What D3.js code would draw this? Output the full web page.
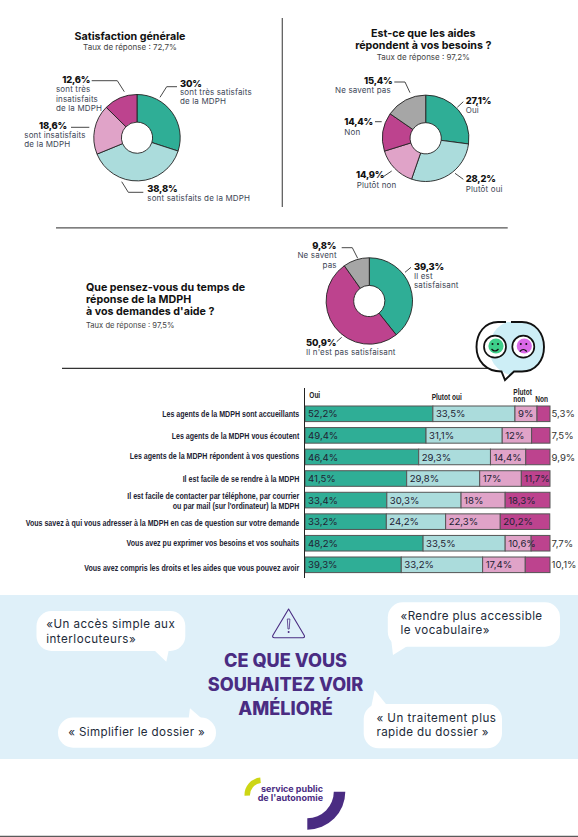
<!DOCTYPE html>
<html><head><meta charset="utf-8">
<script src="https://cdn.jsdelivr.net/npm/d3@7/dist/d3.min.js"></script>
<style>html,body{margin:0;padding:0;background:#fff}svg{display:block}</style></head>
<body><svg id="c" width="578" height="837"></svg>
<script>
// ---- data ----
const satisfactionLabels = ["Très satisfaits","Satisfaits","Insatisfaits","Très insatisfaits"];
const satisfactionValues = [30,38.8,18.6,12.6];
const besoinsLabels = ["Oui","Plutôt oui","Plutôt non","Non","Ne savent pas"];
const besoinsValues = [27.1,28.2,14.9,14.4,15.4];
const delaiLabels = ["Il est satisfaisant","Il n'est pas satisfaisant","Ne savent pas"];
const delaiValues = [39.3,50.9,9.8];
const statements = [
 ["Les agents de la MDPH sont accueillants"],
 ["Les agents de la MDPH vous écoutent"],
 ["Les agents de la MDPH répondent à vos questions"],
 ["Il est facile de se rendre à la MDPH"],
 ["Il est facile de contacter par téléphone, par courrier","ou par mail (sur l'ordinateur) la MDPH"],
 ["Vous savez à qui vous adresser à la MDPH en cas de question sur votre demande"],
 ["Vous avez pu exprimer vos besoins et vos souhaits"],
 ["Vous avez compris les droits et les aides que vous pouvez avoir"]];
const oui      = [52.2,49.4,46.4,41.5,33.4,33.2,48.2,39.3];
const plutotOui= [33.5,31.1,29.3,29.8,30.3,24.2,33.5,33.2];
const plutotNon= [9,12,14.4,17,18,22.3,10.6,17.4];
const non      = [5.3,7.5,9.9,11.7,18.3,20.2,7.7,10.1];

// ---- helpers ----
const TEAL="#2fae96",LIGHT="#abdcdc",PINK="#e0a3c8",MAG="#bd438e",GREY="#a6a6a6",PURPLE="#4a2c82",INK="#3a3f4a";
const GOTHAM="Inter, 'Noto Sans', sans-serif";
const svg=d3.select("#c");
const fr=v=>String(v).replace(".",",")+"%";
function txt(x,y,s,o={}){
  return svg.append("text").attr("x",x).attr("y",y).text(s)
   .attr("font-family",o.font||GOTHAM).attr("font-size",o.size||8).attr("font-weight",o.weight||400)
   .attr("fill",o.fill||INK).attr("text-anchor",o.anchor||"start")
   .attr("letter-spacing",o.ls||null);
}
const pct=(x,y,s,o={})=>txt(x,y,s,Object.assign({size:9.4,weight:800,fill:"#111",ls:-0.2},o));
const lab=(x,y,s,o={})=>txt(x,y,s,Object.assign({size:8,fill:"#3d4656",ls:0.15},o));
const head=(x,y,s,o={})=>txt(x,y,s,Object.assign({size:10.7,weight:700,fill:"#111",anchor:"middle"},o));
function leader(pts){
  svg.append("path").attr("d",d3.line()(pts)).attr("fill","none").attr("stroke","#333").attr("stroke-width",0.9);
}
function donut(cx,cy,values,colors){
  const pie=d3.pie().sort(null)(values);
  const arc=d3.arc().innerRadius(15.6).outerRadius(43.2);
  svg.append("g").attr("transform",`translate(${cx},${cy})`).selectAll("path").data(pie).join("path")
    .attr("d",arc).attr("fill",(d,i)=>colors[i]).attr("stroke","#222").attr("stroke-width",0.9);
}

// ---- top left donut ----
head(130,40,"Satisfaction générale");
lab(130,50,"Taux de réponse : 72,7%",{anchor:"middle",fill:"#444",ls:0});
donut(137,137.7,satisfactionValues,[TEAL,LIGHT,PINK,MAG]);
pct(180,86.7,fr(satisfactionValues[0]));
lab(180,95,"sont très satisfaits");lab(180,103.5,"de la MDPH");
leader([[160,97.3],[166.7,86.7],[177,86.7]]);
pct(147.3,191.7,fr(satisfactionValues[1]));
lab(147.3,200.7,"sont satisfaits de la MDPH");
leader([[121.7,181.7],[128.3,192.3],[143.3,192.3]]);
pct(39,129,fr(satisfactionValues[2]));
lab(24.3,137.5,"sont insatisfaits");lab(24.3,147.3,"de la MDPH");
leader([[71,127.3],[89.3,127.3]]);
pct(62.3,83.3,fr(satisfactionValues[3]));
lab(56,92,"sont très");lab(56,101.7,"insatisfaits");lab(56,110.7,"de la MDPH");
leader([[91.7,80.7],[117.3,80.7],[124.3,91.7]]);

// ---- separators ----
svg.append("line").attr("x1",282.3).attr("x2",282.3).attr("y1",18).attr("y2",207).attr("stroke","#555").attr("stroke-width",1.2);
svg.append("line").attr("x1",56).attr("x2",507.7).attr("y1",227.8).attr("y2",227.8).attr("stroke","#555").attr("stroke-width",1.2);
svg.append("line").attr("x1",62).attr("x2",492).attr("y1",368.4).attr("y2",368.4).attr("stroke","#333").attr("stroke-width",1.1);

// ---- top right donut ----
head(423.3,36.7,"Est-ce que les aides");
head(423.3,49.3,"répondent à vos besoins ?");
lab(423.3,60,"Taux de réponse : 97,2%",{anchor:"middle",fill:"#444",ls:0});
donut(425.7,138.3,besoinsValues,[TEAL,LIGHT,PINK,MAG,GREY]);
pct(465.7,104,fr(besoinsValues[0]));lab(465.7,113.3,besoinsLabels[0]);
leader([[457.3,107.3],[463.3,101.7]]);
pct(465.7,182,fr(besoinsValues[1]));lab(465.7,191.7,besoinsLabels[1]);
leader([[455,173.3],[463.3,179.3]]);
pct(356,178.3,fr(besoinsValues[2]));lab(356.7,187.5,besoinsLabels[2]);
leader([[383.3,176.7],[391.7,171]]);
pct(344.3,125,fr(besoinsValues[3]));lab(344.3,135,besoinsLabels[3]);
leader([[375,121.7],[381.7,121.7]]);
pct(364,84,fr(besoinsValues[4]));lab(335,92.9,besoinsLabels[4]);
leader([[394.3,82],[405,82],[410,92.7]]);

// ---- middle donut ----
head(86,290.7,"Que pensez-vous du temps de",{anchor:"start"});
head(86,302.5,"réponse de la MDPH",{anchor:"start"});
head(86,315,"à vos demandes d'aide ?",{anchor:"start"});
lab(86,328.3,"Taux de réponse : 97,5%",{fill:"#444",size:7.6,ls:0});
donut(369.3,301,delaiValues,[TEAL,MAG,GREY]);
pct(414,270,fr(delaiValues[0]));lab(414,278.6,"Il est");lab(414,288.3,"satisfaisant");
leader([[405,272.3],[411,267.3]]);
pct(306,345.7,fr(delaiValues[1]));lab(306,355,delaiLabels[1]);
leader([[336.7,341.7],[341.7,337.3]]);
pct(312.3,249,fr(delaiValues[2]));lab(336.7,258.3,"Ne savent",{anchor:"end"});lab(336.7,267.7,"pas",{anchor:"end"});
leader([[341.7,247.7],[352.3,247.7],[357.7,258.3]]);

// ---- stacked bars ----
const x=d3.scaleLinear().domain([0,100]).range([305,550]);
const y=d3.scaleBand().domain(d3.range(statements.length)).range([406,572.6]).paddingInner(0.277);
const keys=["oui","plutotOui","plutotNon","non"];
const rows=statements.map((s,i)=>({i,oui:oui[i],plutotOui:plutotOui[i],plutotNon:plutotNon[i],non:non[i]}));
const stack=d3.stack().keys(keys)(rows);
const barColors=d3.scaleOrdinal().domain(keys).range([TEAL,LIGHT,PINK,MAG]);
svg.append("g").selectAll("g").data(stack).join("g").attr("fill",d=>barColors(d.key))
  .selectAll("rect").data(d=>d).join("rect")
  .attr("x",d=>x(d[0])).attr("width",d=>x(d[1])-x(d[0]))
  .attr("y",d=>y(d.data.i)).attr("height",y.bandwidth())
  .attr("stroke","#555").attr("stroke-width",1);
stack.forEach((s,k)=>s.forEach(d=>{
  const v=d[1]-d[0], val=+v.toFixed(1), base=y(d.data.i)+y.bandwidth()/2+3.6;
  if(k===3&&val<11) txt(x(100)+1.5,base,fr(val),{size:9.6,fill:"#333"});
  else txt(x(d[0])+3,base,fr(val),{size:9.6,fill:"#223"});
}));
svg.append("line").attr("x1",304.5).attr("x2",304.5).attr("y1",388).attr("y2",578).attr("stroke","#222").attr("stroke-width",1);

// condensed bold text: squeezed horizontally to the reference's narrow face
const BARFONT="'Liberation Sans', sans-serif";
const probe=txt(0,-50,statements[5][0],{font:BARFONT,size:9.3,weight:700});
const NARROW=274/probe.node().getComputedTextLength();
probe.remove();
function narrow(px,py,s,o={}){
  txt(0,0,s,{font:BARFONT,size:o.size||9.3,weight:700,fill:o.fill||"#1c2333",anchor:o.anchor||"start"})
   .attr("transform",`translate(${px},${py}) scale(${NARROW},1)`);
}
const hf={size:8.6,fill:"#222"};
narrow(309.3,398.3,"Oui",hf);narrow(431.7,399.7,"Plutot oui",hf);narrow(513.3,395,"Plutot",hf);narrow(513.3,402.3,"non",hf);narrow(535.3,402.3,"Non",hf);
const rowBase=[417.3,438.7,458.7,481.7,498.7,525.7,545.7,571];
statements.forEach((lines,i)=>lines.forEach((l,j)=>
  narrow(299.3,rowBase[i]+j*10,l,{anchor:"end"})));

// ---- speech icon ----
const bubbleShape="M506,322 L498,322 C485,322 476.5,333 476.5,347 C476.5,361 486,371.5 501.5,371.5 L505,380 L514,371.5 L522,371.5 C536,371.5 544,360 544,347 C544,333 535,322 522,322 L511,322";
const ic=svg.append("g");
ic.append("clipPath").attr("id","bub").append("path").attr("d",bubbleShape+"Z");
ic.append("path").attr("d",bubbleShape+"Z").attr("fill","#fff");
ic.append("circle").attr("cx",517).attr("cy",348).attr("r",28).attr("fill","#cdeef6").attr("clip-path","url(#bub)");
ic.append("path").attr("d",bubbleShape).attr("fill","none").attr("stroke","#111").attr("stroke-width",1.9);
[[495,"#3ecf8a",1],[523.3,"#d968e8",-1]].forEach(([cx,c,m])=>{
  ic.append("circle").attr("cx",cx).attr("cy",346.7).attr("r",11).attr("fill","#fff").attr("stroke","#111").attr("stroke-width",1.7);
  ic.append("circle").attr("cx",cx+1).attr("cy",346).attr("r",7.6).attr("fill",c);
  ic.append("circle").attr("cx",cx-2.5).attr("cy",344).attr("r",1).attr("fill","#111");
  ic.append("circle").attr("cx",cx+3).attr("cy",344).attr("r",1).attr("fill","#111");
  const my=m<0?351.5:349;
  ic.append("path").attr("d",`M${cx-3.5},${my} Q${cx},${my+m*4} ${cx+3.5},${my}`).attr("fill","none").attr("stroke","#111").attr("stroke-width",1.2);
});

// ---- bottom panel ----
svg.append("rect").attr("x",0).attr("y",595).attr("width",578).attr("height",164).attr("fill","#dff0f9");
function bubble(bx,by,w,h,r,tail){
  svg.append("rect").attr("x",bx).attr("y",by).attr("width",w).attr("height",h).attr("rx",r).attr("fill","#fff");
  svg.append("path").attr("d",d3.line()(tail)+"Z").attr("fill","#fff");
}
bubble(36.5,611,148.8,40,15,[[154,650],[168.8,650],[166.3,661.7]]);
bubble(387.8,602.3,172.2,44.4,15,[[393,655],[391,638],[407.4,646]]);
bubble(58,717.5,158,30.2,15,[[188.7,718.5],[190,708.3],[201.7,718.5]]);
bubble(363.7,704,138.3,44.3,15,[[386.7,705],[374.7,690],[371,708]]);
function quote(qx,qy,s,w){
  const t=txt(qx,qy,s,{size:11.6,fill:"#222b3a"});
  t.attr("letter-spacing",(w-t.node().getComputedTextLength())/s.length);
}
quote(46.2,628.3,"«Un accès simple aux",129);quote(46.2,643.3,"interlocuteurs»",90);
quote(400.5,620,"«Rendre plus accessible",142);quote(400.5,634,"le vocabulaire»",89.5);
quote(68.2,736,"« Simplifier le dossier »",137);
quote(376.4,721.7,"« Un traitement plus",120);quote(376.4,736,"rapide du dossier »",112.6);
const t={size:18.1,weight:800,fill:PURPLE,anchor:"middle"};
txt(285.5,667.3,"CE QUE VOUS",t);txt(285.5,691,"SOUHAITEZ VOIR",t);txt(285.5,715,"AMÉLIORÉ",t);
svg.append("path").attr("d","M288.6,609 L304.3,635.5 Q305,637.7 303,637.7 L274.5,637.7 Q272,637.7 272.8,635.5 Z").attr("fill","none").attr("stroke",PURPLE).attr("stroke-width",1.1).attr("stroke-linejoin","round");
svg.append("path").attr("d","M287.3,619 L289.9,619 L289.2,629 L288,629 Z").attr("fill","none").attr("stroke",PURPLE).attr("stroke-width",.8);
svg.append("circle").attr("cx",288.6).attr("cy",632).attr("r",1).attr("fill",PURPLE);

// ---- logo ----
svg.append("path").attr("transform","translate(262,795)").attr("d",d3.arc().innerRadius(12).outerRadius(17.5).startAngle(-1.62).endAngle(-0.1)()).attr("fill","#cdd614");
svg.append("path").attr("transform","translate(307.3,791.7)").attr("d",d3.arc().innerRadius(26.5).outerRadius(38).startAngle(Math.PI/2).endAngle(Math.PI)()).attr("fill",PURPLE);
const l={size:9,weight:700,fill:PURPLE,anchor:"end"};
txt(323,791.7,"service public",l);txt(323,800.7,"de l'autonomie",l);
svg.append("line").attr("x1",0).attr("x2",578).attr("y1",836.3).attr("y2",836.3).attr("stroke","#333").attr("stroke-width",1);
</script></body></html>
